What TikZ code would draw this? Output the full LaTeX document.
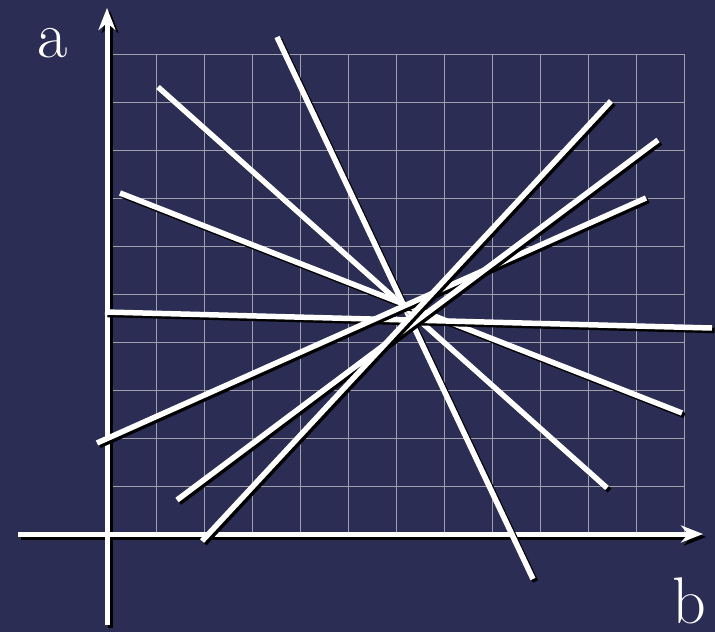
\documentclass[tikz,border=0pt]{standalone}
\usetikzlibrary{arrows.meta}
\definecolor{bgnavy}{RGB}{43,45,84}
\definecolor{gridgrey}{RGB}{160,160,170}
\tikzset{
  gridline/.style={draw=gridgrey, line width=1pt},
  axisline/.style={draw=white, line width=5pt, -{Stealth[length=22pt,width=17pt,inset=7pt]}},
  axisshadow/.style={draw=black, line width=5pt, -{Stealth[length=22pt,width=17pt,inset=7pt]}},
  fitline/.style={draw=white, line width=5.5pt},
  fitshadow/.style={draw=black, line width=5.5pt},
  axlabel/.style={text=white, font=\fontsize{66}{66}\selectfont, inner sep=0pt}
}
\begin{document}
\begin{tikzpicture}[x=1pt,y=-1pt]
\useasboundingbox (0,0) rectangle (715,632);
\fill[bgnavy] (0,0) rectangle (715,632);
% grid
\foreach \gx in {156,204,...,684} {\draw[gridline] (\gx,54) -- (\gx,534);}
\foreach \gy in {54,102,...,486} {\draw[gridline] (108,\gy) -- (684,\gy);}
% axes
\coordinate (vbot) at (107,625);
\coordinate (vtop) at (107,8);
\coordinate (hleft) at (18,534);
\coordinate (hright) at (703,534);
\draw[axisshadow] ([shift={(3,3)}]vbot) -- ([shift={(3,3)}]vtop);
\draw[axisshadow] ([shift={(3,3)}]hleft) -- ([shift={(3,3)}]hright);
\draw[axisline] (vbot) -- (vtop);
\draw[axisline] (hleft) -- (hright);
% labels
\node[axlabel, anchor=base] (la) at (53,57) {a};
\node[axlabel, anchor=base] (lb) at (689,623) {b};
% lines
\coordinate (p1a) at (277,37);  \coordinate (p1b) at (533,579);
\coordinate (p2a) at (158,87);  \coordinate (p2b) at (607,488);
\coordinate (p3a) at (120,193); \coordinate (p3b) at (682,413);
\coordinate (p4a) at (105,312); \coordinate (p4b) at (712,328);
\coordinate (p5a) at (97,443);  \coordinate (p5b) at (646,198);
\coordinate (p6a) at (177,500); \coordinate (p6b) at (658,140);
\coordinate (p7a) at (202,541); \coordinate (p7b) at (611,101);
\foreach \i in {1,...,7} {
  \draw[fitshadow] ([shift={(2.5,2.5)}]p\i a) -- ([shift={(2.5,2.5)}]p\i b);
  \draw[fitline] (p\i a) -- (p\i b);
}
\end{tikzpicture}
\end{document}
